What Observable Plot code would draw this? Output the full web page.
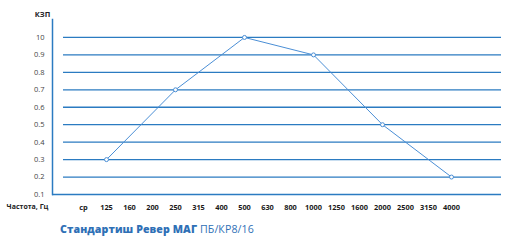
<!DOCTYPE html>
<html>
<head>
<meta charset="utf-8">
<script src="https://cdn.jsdelivr.net/npm/d3@7"></script>
<script src="https://cdn.jsdelivr.net/npm/@observablehq/plot@0.6"></script>
<style>
  body { margin: 0; background: #fff; font-family: "Open Sans", sans-serif; }
  #chart { position: relative; width: 519px; }
  #title { margin: 7px 0 0 60px; font-size: 10.6px; color: #2f70b6; font-family: "Open Sans", sans-serif; letter-spacing: 0.1px; }
  #title b { font-weight: 800; }
</style>
</head>
<body>
<div id="chart"></div>
<div id="title"><b>Стандартиш Ревер МАГ</b> ПБ/КР8/16</div>
<script>
const freqs = ["ср","125","160","200","250","315","400","500","630","800","1000","1250","1600","2000","2500","3150","4000"];
const pointFreqs = ["125","250","500","1000","2000","4000"];
const pointValues = [0.3, 0.7, 1.0, 0.9, 0.5, 0.2];
const yTicks = [0.1,0.2,0.3,0.4,0.5,0.6,0.7,0.8,0.9,1.0];
const yTickLabels = ["0.1","0.2","0.3","0.4","0.5","0.6","0.7","0.8","0.9","10"];
const yLabel = "КЗП";
const xLabel = "Частота, Гц";

const data = pointFreqs.map((f, i) => ({f, v: pointValues[i]}));
const grid = "#2b7bc1";
const lineC = "#4b8fd6";

const plot = Plot.plot({
  width: 519,
  height: 215,
  marginLeft: 52,
  marginRight: 18,
  marginTop: 19,
  marginBottom: 21,
  style: {fontFamily: "Open Sans, sans-serif", background: "#fff"},
  x: {type: "point", domain: freqs, range: [80, 453], padding: 0},
  y: {domain: [0.1, 1.1], range: [194, 19.5]},
  marks: [
    Plot.ruleY(yTicks.slice(1), {stroke: grid, strokeWidth: 1.3, insetLeft: 11}),
    Plot.ruleY([0.1], {stroke: grid, strokeWidth: 1.5}),
    Plot.axisY({ticks: yTicks, tickFormat: (d) => yTickLabels[yTicks.indexOf(d)] ?? "", tickSize: 0, tickPadding: 8, fontSize: 7.5, fill: "#444", label: null}),
    Plot.axisX({tickSize: 0, tickPadding: 10, fontSize: 7.4, fontWeight: 700, fill: "#1a1a1a", label: null}),
    Plot.frame({anchor: "left", stroke: grid, strokeWidth: 1.5}),
    Plot.text([yLabel], {frameAnchor: "top-left", dx: -10, dy: -8, fontWeight: 700, fontSize: 7.5, fill: "#222", textAnchor: "middle"}),
    Plot.text([xLabel], {frameAnchor: "bottom-left", dx: -25, dy: 14, fontWeight: 700, fontSize: 7, fill: "#222", textAnchor: "middle"}),
    Plot.line(data, {x: "f", y: "v", stroke: lineC, strokeWidth: 1}),
    Plot.dot(data, {x: "f", y: "v", r: 2, fill: "#fff", stroke: lineC, strokeWidth: 1})
  ]
});
document.getElementById("chart").appendChild(plot);
</script>
</body>
</html>
